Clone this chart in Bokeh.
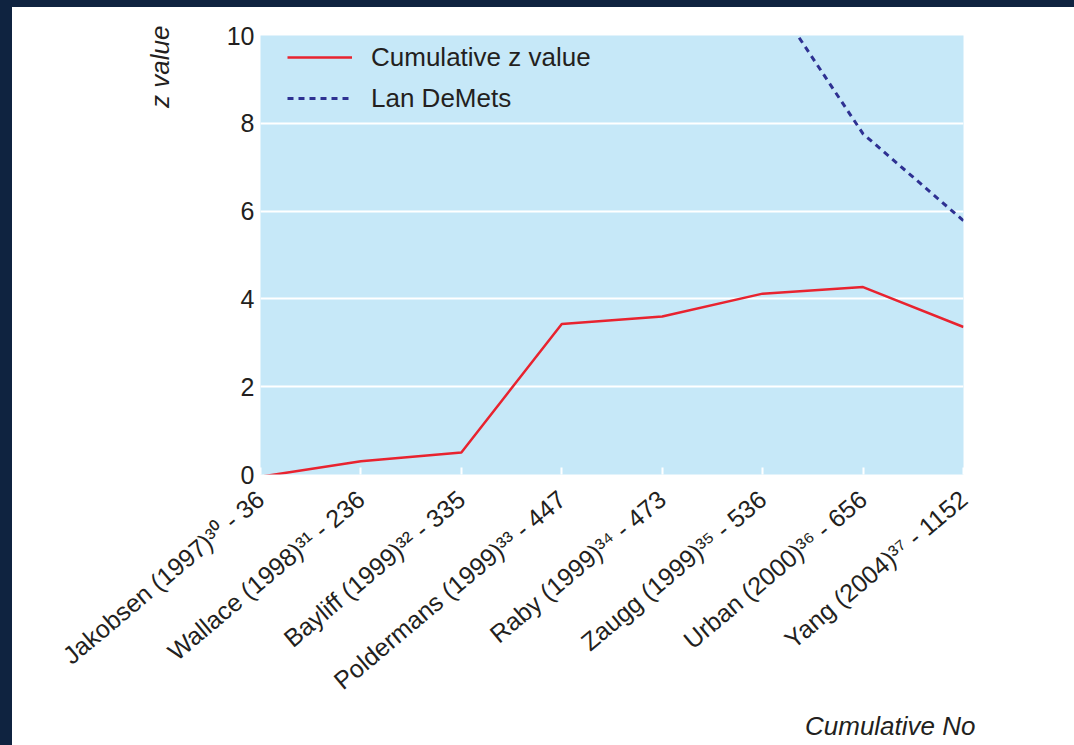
import math
from bokeh.plotting import figure
from bokeh.models import Range1d, FixedTicker, Legend, LegendItem, Title, Div
from bokeh.layouts import column
from bokeh.embed import file_html
from bokeh.resources import INLINE

# ---- data ----
studies = [
    "Jakobsen (1997)³⁰ - 36",
    "Wallace (1998)³¹ - 236",
    "Bayliff (1999)³² - 335",
    "Poldermans (1999)³³ - 447",
    "Raby (1999)³⁴ - 473",
    "Zaugg (1999)³⁵ - 536",
    "Urban (2000)³⁶ - 656",
    "Yang (2004)³⁷ - 1152",
]
study_idx = list(range(len(studies)))
cumulative_z = [-0.05, 0.30, 0.50, 3.43, 3.60, 4.12, 4.27, 3.36]
lan_demets_idx = [5, 6, 7]
lan_demets = [11.2, 7.76, 5.78]
y_ticks = [0, 2, 4, 6, 8, 10]

FONT = "Liberation Sans"
TXT = "#231f20"
NAVY = "#0f2340"

W, H = 1066, 745
p = figure(width=W, height=H, output_backend="svg", toolbar_location=None,
           x_range=Range1d(0, len(studies) - 1), y_range=Range1d(0, 10),
           min_border_left=260, min_border_right=103, min_border_top=35,
           min_border_bottom=271)
p.background_fill_color = "#c6e8f8"
p.border_fill_color = "white"
p.outline_line_color = None

r1 = p.line(study_idx, cumulative_z, line_color="#e8232f", line_width=2.5)
r2 = p.line(lan_demets_idx, lan_demets, line_color="#2e3192", line_width=3,
            line_dash="6 5")

# axes
xa = p.xaxis[0]
xa.ticker = FixedTicker(ticks=study_idx)
xa.major_label_overrides = {i: s for i, s in enumerate(studies)}
xa.major_label_orientation = math.radians(40)
xa.major_label_text_font = FONT
xa.major_label_text_font_size = "25px"
xa.major_label_text_color = TXT
xa.major_label_standoff = 21
xa.major_tick_in = 7
xa.major_tick_out = 0
xa.major_tick_line_color = "white"
xa.major_tick_line_width = 2
xa.minor_tick_line_color = None
xa.axis_line_color = None

ya = p.yaxis[0]
ya.ticker = FixedTicker(ticks=y_ticks)
ya.major_label_text_font = FONT
ya.major_label_text_font_size = "25px"
ya.major_label_text_color = TXT
ya.major_label_standoff = 0
ya.major_tick_line_color = None
ya.minor_tick_line_color = None
ya.axis_line_color = None

p.xgrid.grid_line_color = None
p.ygrid.grid_line_color = "white"
p.ygrid.grid_line_width = 2
p.ygrid.ticker = FixedTicker(ticks=y_ticks)

legend = Legend(items=[LegendItem(label="Cumulative z value", renderers=[r1]),
                       LegendItem(label="Lan DeMets", renderers=[r2])],
                location=(27, 359), padding=0, margin=0, spacing=7,
                glyph_width=65, glyph_height=34, label_height=34,
                label_standoff=19, border_line_color=None,
                background_fill_alpha=0,
                label_text_font=FONT, label_text_font_size="26px",
                label_text_color=TXT)
p.add_layout(legend)

# axis titles
p.add_layout(Title(text="z value", align="right", offset=-10, standoff=97,
                   text_font=FONT, text_font_style="italic",
                   text_font_size="26px", text_color=TXT), "left")
p.add_layout(Title(text="Cumulative No", align="right", offset=-12,
                   standoff=1, text_font=FONT, text_font_style="italic",
                   text_font_size="26px", text_color=TXT), "below")

band = Div(text=f'<div style="position:fixed;left:0;top:0;width:12px;height:745px;background:{NAVY};z-index:1000"></div>'
                f'<div style="position:fixed;left:0;top:0;width:1074px;height:7px;background:{NAVY};z-index:1000"></div>',
           width=0, height=0, margin=0)

layout = column(band, p, spacing=0)
open("out.html", "w").write(file_html(layout, INLINE))
